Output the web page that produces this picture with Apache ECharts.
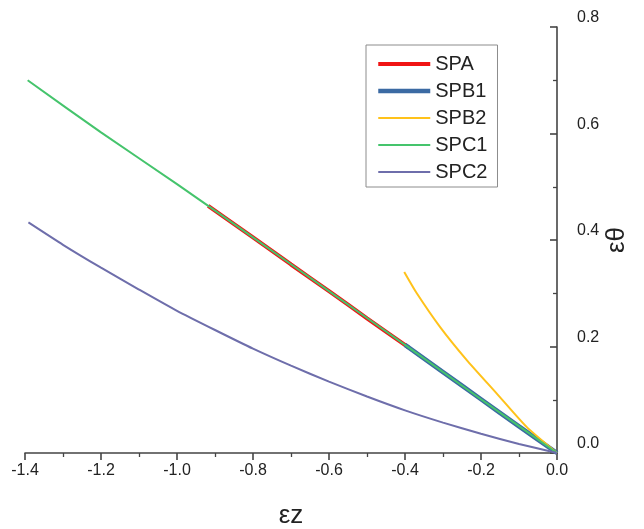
<!DOCTYPE html>
<html>
<head>
<meta charset="utf-8">
<script src="https://cdn.jsdelivr.net/npm/echarts@6/dist/echarts.min.js"></script>
<style>
  html, body { margin: 0; padding: 0; background: #fff; }
  #chart { width: 644px; height: 529px; }
</style>
</head>
<body>
<div id="chart"></div>
<script>
// Series names, in drawing order (later ones sit on top)
const seriesNames = ['SPA', 'SPB1', 'SPB2', 'SPC1', 'SPC2'];

// εz (x) and εθ (y) samples for each specimen
const spaX  = [-0.918, -0.8, -0.7, -0.6, -0.5, -0.39];
const spaY  = [0.464, 0.405, 0.354, 0.304, 0.253, 0.198];

const spb1X = [-0.40, -0.3, -0.2, -0.1, 0];
const spb1Y = [0.203, 0.152, 0.101, 0.050, 0];

const spb2X = [-0.402, -0.369, -0.308, -0.238, -0.159, -0.080, 0];
const spb2Y = [0.340, 0.300, 0.237, 0.175, 0.112, 0.049, 0];

const spc1X = [-1.393, -1.2, -1.0, -0.8, -0.6, -0.4, -0.2, 0];
const spc1Y = [0.700, 0.602, 0.505, 0.405, 0.304, 0.203, 0.101, 0];

const spc2X = [-1.391, -1.3, -1.2, -1.1, -1.0, -0.9, -0.8, -0.7, -0.6, -0.5, -0.4, -0.3, -0.2, -0.1, 0];
const spc2Y = [0.433, 0.391, 0.348, 0.307, 0.267, 0.231, 0.196, 0.164, 0.134, 0.106, 0.080, 0.057, 0.036, 0.017, 0];

const seriesX = [spaX, spb1X, spb2X, spc1X, spc2X];
const seriesY = [spaY, spb1Y, spb2Y, spc1Y, spc2Y];

const colors = ['#f01414', '#3b6aa3', '#ffc21a', '#45c46c', '#6e6eab'];
const widths = [4, 4.5, 2, 2, 2];

const font = 'Liberation Sans, Arial, sans-serif';
const axisColor = '#444444';
const fmt = v => v.toFixed(1);

const chart = echarts.init(document.getElementById('chart'), null, { renderer: 'canvas' });

chart.setOption({
  animation: false,
  backgroundColor: '#ffffff',
  grid: { left: 25, right: 87, top: 27, bottom: 76, containLabel: false, outerBoundsMode: 'none' },
  legend: {
    orient: 'vertical',
    left: 366,
    top: 45,
    padding: [9, 10, 5, 10],
    itemWidth: 52,
    itemHeight: 14,
    itemGap: 7,
    borderColor: '#8c8c8c',
    borderWidth: 1,
    backgroundColor: '#fff',
    itemStyle: { opacity: 0 },
    lineStyle: { width: 'inherit' },
    textStyle: { fontFamily: font, fontSize: 20, lineHeight: 18, color: '#222' },
    data: seriesNames
  },
  xAxis: {
    type: 'value',
    min: -1.4,
    max: 0,
    interval: 0.2,
    name: 'εz',
    nameLocation: 'middle',
    nameGap: 50,
    nameTextStyle: { fontFamily: font, fontSize: 26, color: '#222' },
    axisLine: { onZero: false, lineStyle: { color: axisColor, width: 1.6 } },
    axisTick: { show: true, length: 7, lineStyle: { color: axisColor, width: 1.6 } },
    minorTick: { show: true, splitNumber: 2, length: 4, lineStyle: { color: axisColor, width: 1.3 } },
    splitLine: { show: false },
    axisLabel: { formatter: fmt, fontFamily: font, fontSize: 16, color: '#222', margin: 10 }
  },
  yAxis: {
    type: 'value',
    position: 'right',
    min: 0,
    max: 0.8,
    interval: 0.2,
    name: 'εθ',
    nameLocation: 'middle',
    nameGap: 47,
    nameRotate: 90,
    nameMoveOverlap: false,
    nameTextStyle: { fontFamily: font, fontSize: 26, color: '#222' },
    axisLine: { show: true, onZero: false, lineStyle: { color: axisColor, width: 1.6 } },
    axisTick: { show: true, inside: true, length: 7, lineStyle: { color: axisColor, width: 1.6 } },
    minorTick: { show: true, splitNumber: 2, length: 4, lineStyle: { color: axisColor, width: 1.3 } },
    splitLine: { show: false },
    axisLabel: {
      formatter: fmt, fontFamily: font, fontSize: 16, color: '#222', margin: 20,
      verticalAlign: 'bottom', padding: [0, 0, 1, 0]
    }
  },
  series: seriesNames.map((name, i) => ({
    name,
    type: 'line',
    symbol: 'none',
    smooth: 0.2,
    clip: false,
    color: colors[i],
    lineStyle: { color: colors[i], width: widths[i] },
    data: seriesX[i].map((x, k) => [x, seriesY[i][k]])
  }))
});
</script>
</body>
</html>
